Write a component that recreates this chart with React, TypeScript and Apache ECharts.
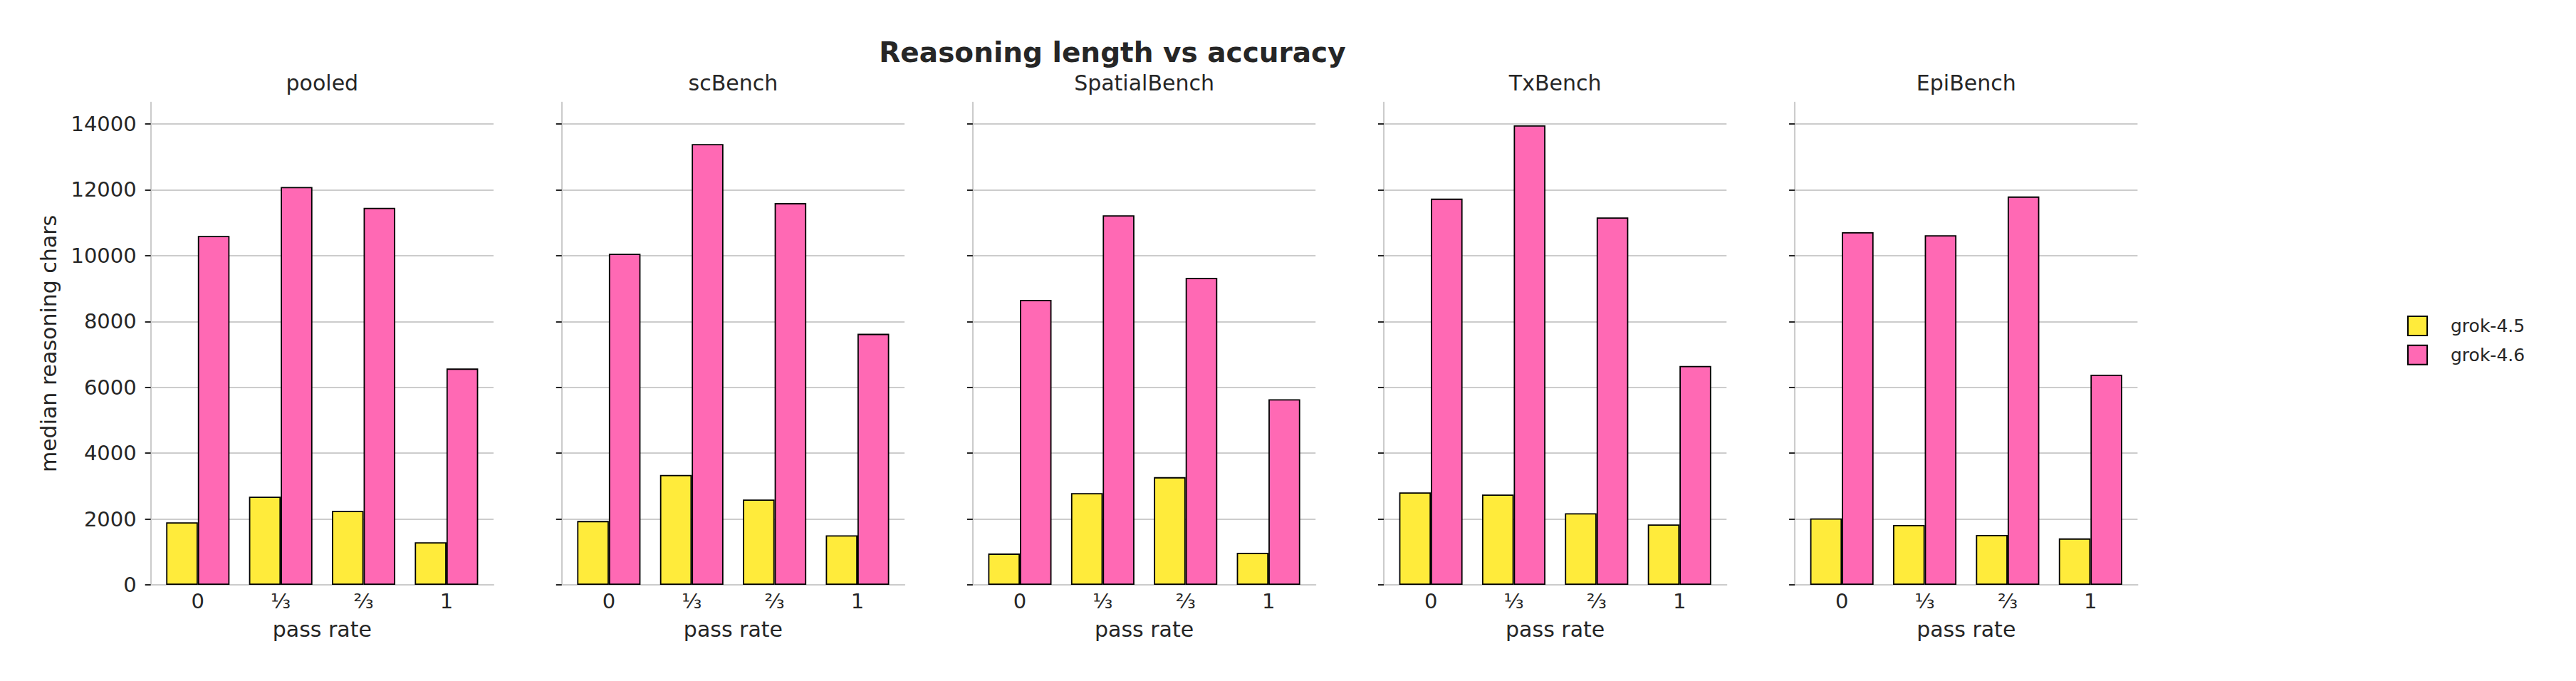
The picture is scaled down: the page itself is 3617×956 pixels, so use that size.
import React, { useEffect, useRef } from 'react';
import * as echarts from 'echarts';

// ---- data ----
const PANELS = ['pooled', 'scBench', 'SpatialBench', 'TxBench', 'EpiBench'];
const PASS_RATE_POS = [0, 1, 2, 3];
const PASS_RATE_LABELS = ['0', '⅓', '⅔', '1'];
const Y_TICKS = [0, 2000, 4000, 6000, 8000, 10000, 12000, 14000];
const SERIES_NAMES = ['grok-4.5', 'grok-4.6'];

const GROK45_POOLED = [1900, 2680, 2245, 1295];
const GROK45_SCBENCH = [1940, 3340, 2590, 1505];
const GROK45_SPATIAL = [950, 2785, 3270, 975];
const GROK45_TX = [2810, 2745, 2175, 1835];
const GROK45_EPI = [2020, 1820, 1515, 1410];

const GROK46_POOLED = [10595, 12085, 11450, 6570];
const GROK46_SCBENCH = [10055, 13390, 11595, 7625];
const GROK46_SPATIAL = [8655, 11225, 9325, 5635];
const GROK46_TX = [11730, 13955, 11160, 6650];
const GROK46_EPI = [10710, 10620, 11795, 6385];

const GROK45 = [GROK45_POOLED, GROK45_SCBENCH, GROK45_SPATIAL, GROK45_TX, GROK45_EPI];
const GROK46 = [GROK46_POOLED, GROK46_SCBENCH, GROK46_SPATIAL, GROK46_TX, GROK46_EPI];

// ---- layout / style ----
const W = 3617;
const H = 956;
const FONT = "'DejaVu Sans', 'Noto Sans', sans-serif";
const TEXT = '#262626';
const GRID = '#cccccc';
const YELLOW = '#FFEB3B';
const PINK = '#FF69B4';

const L0 = 211.7;
const STEP = 577.1;
const PW = 481.3;
const PT = 143.9;
const PH = 677.1;
const X_MIN = -0.568;
const X_MAX = 3.568;
const Y_MAX = 14650;

function fmtX(v: number) {
  const r = Math.round(v);
  if (Math.abs(v - r) > 1e-6) return '';
  return PASS_RATE_LABELS[r] ?? '';
}

export default function App() {
  const ref = useRef<HTMLDivElement>(null);

  useEffect(() => {
    document.body.style.margin = '0';
    if (!ref.current) return;
    const chart = echarts.init(ref.current, undefined, { renderer: 'svg' });

    const grids = PANELS.map((_, i) => ({
      left: L0 + i * STEP,
      top: PT,
      width: PW,
      height: PH,
      containLabel: false,
      outerBoundsMode: 'none',
    }));

    const xAxes = PANELS.map((_, i) => ({
      type: 'value',
      gridIndex: i,
      min: X_MIN,
      max: X_MAX,
      axisLine: { show: true, onZero: false, lineStyle: { color: GRID, width: 2.2 } },
      axisTick: { show: false },
      splitLine: { show: false },
      axisLabel: {
        show: true,
        customValues: PASS_RATE_POS,
        formatter: (v: number) => fmtX(v),
        fontSize: 29,
        color: TEXT,
        fontFamily: FONT,
        margin: 8.5,
      },
      name: 'pass rate',
      nameLocation: 'middle',
      nameGap: 47,
      nameTextStyle: { fontSize: 30, color: TEXT, fontFamily: FONT },
    }));

    const yAxes = PANELS.map((_, i) => ({
      type: 'value',
      gridIndex: i,
      min: 0,
      max: Y_MAX,
      interval: 2000,
      axisLine: { show: true, onZero: false, lineStyle: { color: GRID, width: 2.2 } },
      axisTick: {
        show: true,
        length: 8,
        customValues: Y_TICKS,
        lineStyle: { color: TEXT, width: 2 },
      },
      splitLine: { show: true, lineStyle: { color: GRID, width: 1.8 } },
      axisLabel: {
        show: i === 0,
        customValues: Y_TICKS,
        formatter: (v: number) => (v % 2000 === 0 ? String(v) : ''),
        fontSize: 29,
        color: TEXT,
        fontFamily: FONT,
        margin: 20,
      },
    }));

    const series: any[] = [];
    PANELS.forEach((_, i) => {
      [GROK45, GROK46].forEach((arr, k) => {
        series.push({
          type: 'bar',
          name: SERIES_NAMES[k],
          xAxisIndex: i,
          yAxisIndex: i,
          data: PASS_RATE_POS.map((x, j) => [x, arr[i][j]]),
          barWidth: 44.5,
          barGap: '0%',
          itemStyle: { color: k === 0 ? YELLOW : PINK, borderColor: '#000000', borderWidth: 1.8 },
          emphasis: { disabled: true },
        });
      });
    });

    const graphics: any[] = [
      {
        type: 'text',
        x: 1562,
        y: 73.2,
        style: {
          text: 'Reasoning length vs accuracy',
          fill: TEXT,
          font: `bold 39px ${FONT}`,
          fontSize: 39,
          fontWeight: 'bold',
          fontFamily: FONT,
          align: 'center',
          verticalAlign: 'middle',
          textAlign: 'center',
          textVerticalAlign: 'middle',
        },
      },
      {
        type: 'text',
        x: 68,
        y: PT + PH / 2,
        rotation: Math.PI / 2,
        style: {
          text: 'median reasoning chars',
          fill: TEXT,
          font: `30px ${FONT}`,
          fontSize: 30,
          fontFamily: FONT,
          align: 'center',
          verticalAlign: 'middle',
          textAlign: 'center',
          textVerticalAlign: 'middle',
        },
      },
      ...PANELS.map((p, i) => ({
        type: 'text',
        x: L0 + i * STEP + PW / 2,
        y: 116.6,
        style: {
          text: p,
          fill: TEXT,
          font: `30px ${FONT}`,
          fontSize: 30,
          fontFamily: FONT,
          align: 'center',
          verticalAlign: 'middle',
          textAlign: 'center',
          textVerticalAlign: 'middle',
        },
      })),
    ];

    chart.setOption({
      animation: false,
      backgroundColor: '#ffffff',
      textStyle: { fontFamily: FONT },
      grid: grids,
      xAxis: xAxes,
      yAxis: yAxes,
      series,
      legend: {
        data: SERIES_NAMES,
        orient: 'vertical',
        left: 3380,
        top: 443,
        padding: 0,
        itemWidth: 27,
        itemHeight: 27,
        itemGap: 11.7,
        icon: 'rect',
        selectedMode: false,
        textStyle: { fontSize: 25, color: TEXT, fontFamily: FONT, padding: [0, 0, 0, 28] },
      },
      graphic: graphics,
    } as any);

    return () => {
      chart.dispose();
    };
  }, []);

  return <div ref={ref} style={{ width: W, height: H }} />;
}
